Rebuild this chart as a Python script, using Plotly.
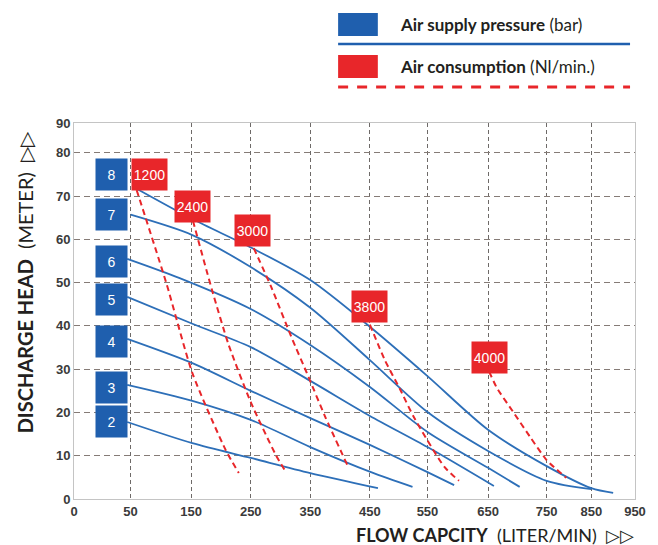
import numpy as np
import plotly.graph_objects as go

# axis ticks of the source chart: the flow axis is not evenly spaced, so keep where each label sits
FLOW_TICKS = [0, 50, 150, 250, 350, 450, 550, 650, 750, 850, 950]
FLOW_TICK_POS = [0, 57, 118, 178, 238, 298, 356, 417, 476, 521, 565]
HEAD_TICKS = [0, 10, 20, 30, 40, 50, 60, 70, 80, 90]
HEAD_TICK_POS = [0, 10, 20, 30, 40, 50, 60, 70, 80, 86.9]

# performance curves, one per air supply pressure (bar)
PRESSURES = [8, 7, 6, 5, 4, 3, 2]
FLOW_8 = [60, 152, 252, 350, 450, 550, 650, 750, 850, 900]
HEAD_8 = [71.7, 64.7, 58.0, 50.6, 39.8, 28.4, 16.0, 7.6, 2.5, 1.4]
FLOW_7 = [50, 152, 250, 350, 450, 550, 650, 750, 850]
HEAD_7 = [65.7, 61.0, 53.6, 44.2, 32.1, 20.1, 11.1, 4.2, 2.3]
FLOW_6 = [47, 130, 250, 350, 450, 550, 650, 704]
HEAD_6 = [55.5, 51.1, 43.9, 35.6, 25.9, 15.5, 7.2, 2.8]
FLOW_5 = [47, 152, 250, 350, 450, 550, 660]
HEAD_5 = [46.7, 40.5, 35.1, 27.3, 19.2, 12.0, 3.0]
FLOW_4 = [47, 152, 250, 350, 450, 550, 594]
HEAD_4 = [37.0, 31.4, 25.0, 18.7, 12.5, 6.2, 3.2]
FLOW_3 = [47, 152, 250, 350, 452, 524]
HEAD_3 = [26.4, 22.7, 18.3, 12.0, 6.2, 2.8]
FLOW_2 = [47, 152, 250, 350, 464]
HEAD_2 = [17.8, 12.9, 9.5, 6.0, 2.5]
PRESSURE_LABEL_FLOW = 33
PRESSURE_LABEL_HEAD = [75.1, 65.7, 54.8, 46.0, 36.5, 25.7, 17.8]

# air consumption lines (Nl/min.)
CONSUMPTIONS = [1200, 2400, 3000, 3800, 4000]
FLOW_1200 = [60, 109, 152, 208, 230]
HEAD_1200 = [71.4, 49.9, 29.1, 11.3, 6.0]
FLOW_2400 = [153, 185, 213, 250, 292, 310]
HEAD_2400 = [64.3, 48.3, 35.6, 22.4, 10.2, 6.0]
FLOW_3000 = [255, 285, 318, 347, 375, 413]
HEAD_3000 = [58.0, 48.8, 37.5, 28.2, 19.0, 7.6]
FLOW_3800 = [450, 476, 503, 526, 578, 602]
HEAD_3800 = [40.3, 32.1, 25.2, 19.0, 7.4, 4.2]
FLOW_4000 = [652, 665, 694, 722, 750, 794]
HEAD_4000 = [29.4, 25.7, 19.9, 14.3, 9.0, 4.9]
CONSUMPTION_LABEL_FLOW = [81, 152, 253, 450, 653]
CONSUMPTION_LABEL_HEAD = [75.1, 67.5, 62.0, 44.6, 32.8]

BLUE = '#1f5fae'
CURVE_BLUE = '#2d6fb8'
RED = '#e8262a'
INK = '#231f20'

# the page body keeps its default 8px margin, so the figure is that much smaller
OFF = 8
W, H = 658 - OFF, 545 - OFF
L, R, T, B = 74 - OFF, 19, 123 - OFF, 46


def fx(flow):
    return np.interp(flow, FLOW_TICKS, FLOW_TICK_POS)


def fy(head):
    return np.interp(head, HEAD_TICKS, HEAD_TICK_POS)


# helpers for decoration placed in window pixels
def paper_x(px):
    return (px - OFF - L) / (W - L - R)


def paper_y(py):
    return (H - B - (py - OFF)) / (H - T - B)


fig = go.Figure()

curves = [(FLOW_8, HEAD_8), (FLOW_7, HEAD_7), (FLOW_6, HEAD_6), (FLOW_5, HEAD_5),
          (FLOW_4, HEAD_4), (FLOW_3, HEAD_3), (FLOW_2, HEAD_2)]
for bar, (fl, hd) in zip(PRESSURES, curves):
    fig.add_trace(go.Scatter(x=fx(fl), y=fy(hd), mode='lines', name=f'{bar} bar',
                             line=dict(color=CURVE_BLUE, width=1.8, shape='spline', smoothing=0.8),
                             showlegend=False))

air = [(FLOW_1200, HEAD_1200), (FLOW_2400, HEAD_2400), (FLOW_3000, HEAD_3000),
       (FLOW_3800, HEAD_3800), (FLOW_4000, HEAD_4000)]
for nl, (fl, hd) in zip(CONSUMPTIONS, air):
    fig.add_trace(go.Scatter(x=fx(fl), y=fy(hd), mode='lines', name=f'{nl} Nl/min',
                             line=dict(color=RED, width=2, dash='6px,4px', shape='spline', smoothing=0.6),
                             showlegend=False))

annotations = []
for bar, hd in zip(PRESSURES, PRESSURE_LABEL_HEAD):
    annotations.append(dict(x=fx(PRESSURE_LABEL_FLOW), y=fy(hd), xref='x', yref='y', text=str(bar),
                            showarrow=False, bgcolor=BLUE, width=31, height=31, borderpad=0,
                            xanchor='center', yanchor='middle',
                            font=dict(family='Liberation Sans', size=14, color='white')))
for nl, fl, hd in zip(CONSUMPTIONS, CONSUMPTION_LABEL_FLOW, CONSUMPTION_LABEL_HEAD):
    annotations.append(dict(x=fx(fl), y=fy(hd), xref='x', yref='y', text=str(nl),
                            showarrow=False, bgcolor=RED, width=35, height=31, borderpad=0,
                            xanchor='center', yanchor='middle',
                            font=dict(family='Liberation Sans', size=14, color='white')))

# axis titles
annotations.append(dict(x=paper_x(498), y=paper_y(535), xref='paper', yref='paper',
                        xanchor='center', yanchor='middle',
                        text='<b>FLOW CAPCITY</b>  (LITER/MIN)  ▷▷', showarrow=False,
                        font=dict(family='Lato', size=18, color=INK)))
annotations.append(dict(x=paper_x(25), y=paper_y(282), xref='paper', yref='paper', textangle=-90,
                        xanchor='center', yanchor='middle',
                        text='<b>DISCHARGE HEAD</b>  (METER)  ▷▷', showarrow=False,
                        font=dict(family='Lato', size=20, color=INK)))

# legend block at the top
annotations.append(dict(x=paper_x(400), y=paper_y(25), xref='paper', yref='paper',
                        xanchor='left', yanchor='middle',
                        text='<b>Air supply pressure</b> (bar)', showarrow=False,
                        font=dict(family='Lato', size=17, color=INK)))
annotations.append(dict(x=paper_x(400), y=paper_y(67), xref='paper', yref='paper',
                        xanchor='left', yanchor='middle',
                        text='<b>Air consumption</b> (Nl/min.)', showarrow=False,
                        font=dict(family='Lato', size=17, color=INK)))

shapes = [
    dict(type='rect', xref='paper', yref='paper', x0=paper_x(340), x1=paper_x(380),
         y0=paper_y(36), y1=paper_y(13), fillcolor=BLUE, line=dict(width=0)),
    dict(type='line', xref='paper', yref='paper', x0=paper_x(340), x1=paper_x(634),
         y0=paper_y(44), y1=paper_y(44), line=dict(color=BLUE, width=2.5)),
    dict(type='rect', xref='paper', yref='paper', x0=paper_x(340), x1=paper_x(380),
         y0=paper_y(78), y1=paper_y(55), fillcolor=RED, line=dict(width=0)),
    dict(type='line', xref='paper', yref='paper', x0=paper_x(340), x1=paper_x(634),
         y0=paper_y(87), y1=paper_y(87), line=dict(color=RED, width=3, dash='10px,9px')),
]

fig.update_layout(
    width=W, height=H, autosize=False,
    margin=dict(l=L, r=R, t=T, b=B),
    plot_bgcolor='white', paper_bgcolor='white',
    annotations=annotations, shapes=shapes,
    showlegend=False,
)

fig.update_xaxes(range=[0, FLOW_TICK_POS[-1]], tickmode='array', tickvals=FLOW_TICK_POS,
                 ticktext=[str(v) for v in FLOW_TICKS],
                 showgrid=True, gridcolor='#6e6a68', gridwidth=1, griddash='4px,3px',
                 showline=True, linecolor='#c4c4c4', linewidth=1, mirror=True, zeroline=False,
                 ticks='', tickfont=dict(family='Liberation Sans', size=13, color='#3a3a3a', weight='bold'))
fig.update_yaxes(range=[0, HEAD_TICK_POS[-1]], tickmode='array', tickvals=HEAD_TICK_POS,
                 ticktext=[str(v) for v in HEAD_TICKS],
                 showgrid=True, gridcolor='#857b76', gridwidth=1, griddash='6px,4px',
                 showline=True, linecolor='#c4c4c4', linewidth=1, mirror=True, zeroline=False,
                 ticks='', tickfont=dict(family='Liberation Sans', size=13, color='#3a3a3a', weight='bold'))

fig.write_html("out.html")
